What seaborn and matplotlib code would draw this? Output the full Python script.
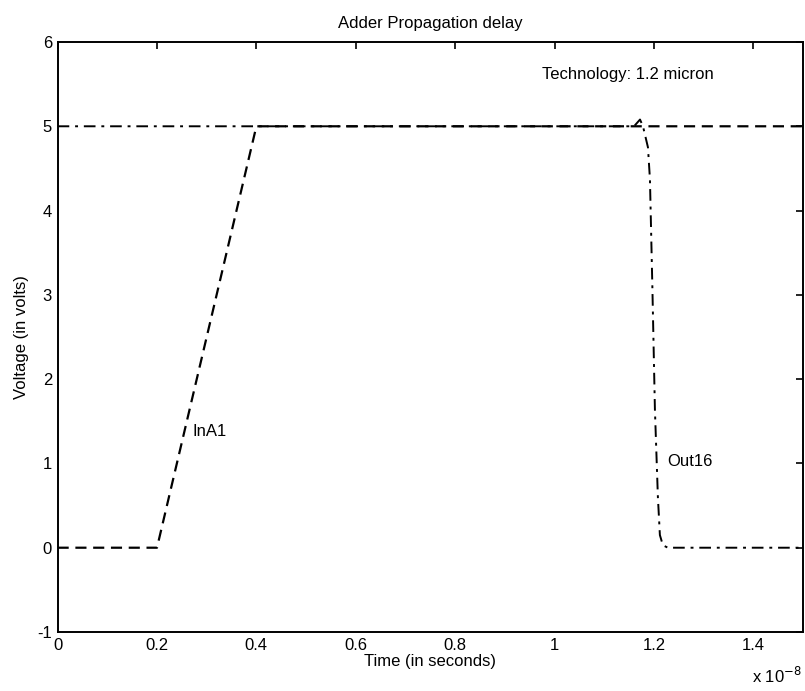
import matplotlib
matplotlib.use("Agg")
import matplotlib.pyplot as plt
import seaborn as sns
import pandas as pd

# time in units of 1e-8 s
ina1_t = [0.0, 0.2, 0.4, 1.5]
ina1_v = [0.0, 0.0, 5.0, 5.0]

out16_t = [0.0, 1.16, 1.172, 1.178, 1.188, 1.192, 1.197, 1.202, 1.208, 1.212, 1.218, 1.228, 1.5]
out16_v = [5.0, 5.0, 5.08, 5.0, 4.75, 4.37, 3.06, 1.64, 0.6, 0.15, 0.03, 0.0, 0.0]

x_ticks = [0, 0.2, 0.4, 0.6, 0.8, 1.0, 1.2, 1.4]
x_ticklabels = ["0", "0.2", "0.4", "0.6", "0.8", "1", "1.2", "1.4"]
y_ticks = [-1, 0, 1, 2, 3, 4, 5, 6]

sns.set_theme(style="white")
plt.rcParams['font.family'] = ['Liberation Sans', 'DejaVu Sans']
plt.rcParams['text.color'] = 'black'
plt.rcParams['axes.labelcolor'] = 'black'
plt.rcParams['axes.unicode_minus'] = False

fig = plt.figure(figsize=(8.05, 6.91), dpi=100)
ax = fig.add_axes([57.6 / 805, 1 - 632 / 691, (803 - 57.6) / 805, (632 - 42) / 691])

df1 = pd.DataFrame({"t": ina1_t, "v": ina1_v})
df2 = pd.DataFrame({"t": out16_t, "v": out16_v})
sns.lineplot(data=df2, x="t", y="v", ax=ax, sort=False, color="black", lw=1.4,
             linestyle=(0, (6, 3, 1.5, 3)))
sns.lineplot(data=df1, x="t", y="v", ax=ax, sort=False, color="black", lw=1.6,
             linestyle=(0, (5, 3)))

ax.set_xlim(0, 1.5)
ax.set_ylim(-1, 6)
ax.set_xticks(x_ticks)
ax.set_xticklabels(x_ticklabels)
ax.set_yticks(y_ticks)
ax.tick_params(direction="in", top=True, right=True, length=5, width=1.2,
               labelsize=12, colors="black", pad=4)
for s in ax.spines.values():
    s.set_color("black")
    s.set_linewidth(1.4)

ax.set_xlabel("Time (in seconds)", fontsize=12, labelpad=1)
ax.set_ylabel("Voltage (in volts)", fontsize=12, labelpad=6)
ax.set_title("Adder Propagation delay", fontsize=12, pad=10)

ax.text(0.272, 1.38, "InA1", fontsize=12, va="center", ha="left")
ax.text(1.226, 1.02, "Out16", fontsize=12, va="center", ha="left")
ax.text(0.975, 5.61, "Technology: 1.2 micron", fontsize=12, va="center", ha="left")
fig.text(802 / 805, 1 - 676 / 691, r"x 10$^{-8}$", fontsize=12, ha="right", va="center")

fig.savefig("out.png", dpi=100)
